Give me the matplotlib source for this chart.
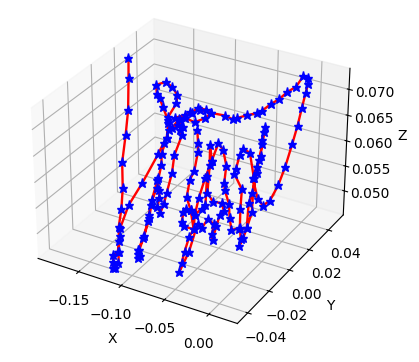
import numpy as np
import matplotlib
matplotlib.use('Agg')
from matplotlib import pyplot as plt

# x and y in thousandths, z in ten-thousandths
x_vals = [-186,-174,-156,-143,-145,-145,-136,-130,-123,-119,-122,-119,-117,-114,-113,-118,-125,-128,-130,-127,-122,-117,-116,-123,-126,-125,-129,-139,-148,-157,-151,-145,-137,-125,-119,-116,-117,-116,-113,-110,-108,-105,-103,-100,-99,-98,-95,-95,-98,-100,-103,-109,-113,-107,-103,-100,-94,-95,-97,-101,-102,-102,-107,-106,-112,-119,-110,-104,-101,-92,-84,-88,-96,-108,-112,-116,-114,-107,-97,-84,-69,-59,-55,-47,-38,-34,-29,-23,-19,-13,-11,-5,-2,0,4,4,1,-2,-6,-7,-8,-13,-20,-18,-16,-19,-21,-22,-17,-17,-18,-18,-15,-5,-2,0,-2,-8,-16,-24,-33,-31,-34,-34,-25,-20,-10,-5,-8,-15,-22,-29,-40,-43,-42,-53,-61,-60,-65,-62,-58,-53,-53,-52,-49,-48,-47,-51,-45,-43,-35,-32,-29,-31,-33,-31,-37,-46,-56,-61,-68,-60,-64,-52,-54,-58,-64,-69,-71,-68,-64,-53,-64,-75,-80,-80,-77,-82,-89]
y_vals = [23,14,0,-12,-14,-14,-22,-29,-34,-38,-40,-42,-44,-44,-42,-38,-32,-29,-20,-10,1,2,4,11,13,20,24,27,28,26,22,20,17,12,8,4,0,-1,-6,-10,-17,-21,-23,-30,-35,-36,-38,-37,-35,-29,-22,-15,-7,-10,-13,-17,-19,-15,-11,-3,0,7,9,11,13,14,16,18,21,21,20,17,14,15,11,9,14,18,20,20,21,20,21,23,25,27,31,34,38,42,47,47,44,40,33,29,27,23,20,13,7,6,7,9,11,14,18,20,13,10,9,5,-1,-11,-17,-22,-19,-15,-8,0,0,0,6,9,8,8,-2,-11,-16,-17,-13,-8,-3,-1,0,6,8,1,-1,-9,-16,-21,-25,-30,-35,-38,-30,-19,-20,-16,-17,-21,-23,-18,-13,-11,-8,-9,-6,0,6,1,0,-11,-13,-16,-15,-15,-16,-20,-21,-21,-15,-10,-3,1,2,6,11]
z_vals = [720,702,671,650,600,550,528,509,495,484,479,472,466,467,473,484,500,509,535,561,601,623,629,643,649,664,672,678,682,676,668,665,656,646,636,629,605,585,570,560,541,530,524,505,492,487,484,486,492,507,528,547,568,558,550,541,536,546,558,580,609,635,639,643,649,649,655,659,665,665,664,657,651,652,644,639,650,659,663,664,664,663,666,671,676,679,687,694,702,709,721,721,715,706,692,664,632,592,560,543,544,557,591,611,628,652,660,665,647,623,598,567,560,536,530,526,532,543,563,581,607,617,632,638,636,590,547,536,544,540,551,566,578,585,618,632,637,616,584,563,545,529,522,504,493,482,506,537,533,545,540,530,525,540,552,556,563,563,570,609,634,616,587,558,553,545,549,549,543,534,529,529,549,559,578,587,624,632,644]

xs = np.array(x_vals) / 1000
ys = np.array(y_vals) / 1000
zs = np.array(z_vals) / 10000

fig = plt.figure(figsize=(4.19,3.62), dpi=100)
ax = fig.add_axes([-49.3/419, 16.1/362, 476/419, 354.8/362], projection='3d')
ax.plot(xs, ys, zs, color='r', lw=1.7, marker='*', ms=6.5, mfc='b', mec='b')
ax.set_xlim(-0.199,0.0315)
ax.set_ylim(-0.0495,0.056)
ax.set_zlim(0.0451,0.074)
ax.set_xlabel('X')
ax.set_ylabel('Y')
ax.set_zlabel('Z')
fig.savefig('out.png', dpi=100)
